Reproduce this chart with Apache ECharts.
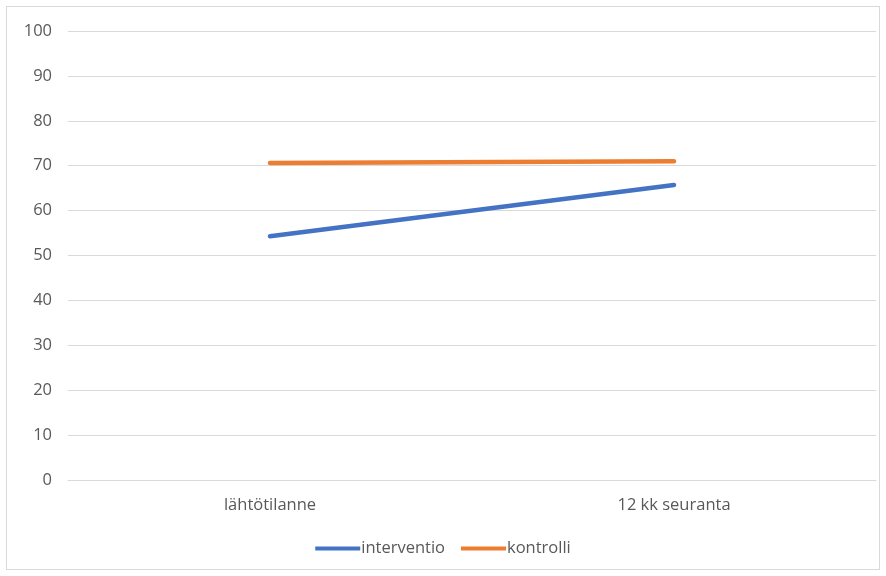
<!DOCTYPE html>
<html><head><meta charset="utf-8">
<script src="https://cdn.jsdelivr.net/npm/echarts@6/dist/echarts.min.js"></script>
<style>html,body{margin:0;padding:0;background:#fff}#c{width:886px;height:576px}
#frame{position:absolute;left:6px;top:6px;width:874px;height:564px;border:1px solid #d9d9d9;box-sizing:border-box;pointer-events:none}</style>
</head><body><div id="c"></div><div id="frame"></div>
<script>
const categories = ['lähtötilanne', '12 kk seuranta'];
const interventio = [54.3, 65.7];
const kontrolli = [70.6, 71.0];
const yTicks = {min: 0, max: 100, interval: 10};

const chart = echarts.init(document.getElementById('c'));
const font = '"Open Sans", sans-serif';
chart.setOption({
  animation: false,
  grid: {left: 68, right: 10, top: 31, bottom: 96},
  legend: {
    bottom: 14, left: 'center', itemWidth: 45, itemHeight: 4, itemGap: 16,
    icon: 'rect',
    textStyle: {color: '#595959', fontSize: 16.5, fontFamily: font, padding: [0,0,0,-4]},
    data: ['interventio', 'kontrolli']
  },
  xAxis: {
    type: 'category', data: categories, boundaryGap: true,
    axisLine: {show: true, lineStyle: {color: '#d9d9d9'}}, axisTick: {show: false},
    axisLabel: {color: '#595959', fontSize: 16.5, fontFamily: font, margin: 17}
  },
  yAxis: {
    type: 'value', min: yTicks.min, max: yTicks.max, interval: yTicks.interval,
    axisLine: {show: false}, axisTick: {show: false},
    splitLine: {lineStyle: {color: '#d9d9d9', width: 1}},
    axisLabel: {color: '#595959', fontSize: 16.5, fontFamily: font, margin: 16}
  },
  series: [
    {name: 'interventio', type: 'line', data: interventio, showSymbol: false, symbol: 'none',
     lineStyle: {color: '#4472C4', width: 4.5, cap: 'round'}, itemStyle: {color: '#4472C4'}},
    {name: 'kontrolli', type: 'line', data: kontrolli, showSymbol: false, symbol: 'none',
     lineStyle: {color: '#ED7D31', width: 4.5, cap: 'round'}, itemStyle: {color: '#ED7D31'}}
  ]
});
</script></body></html>
